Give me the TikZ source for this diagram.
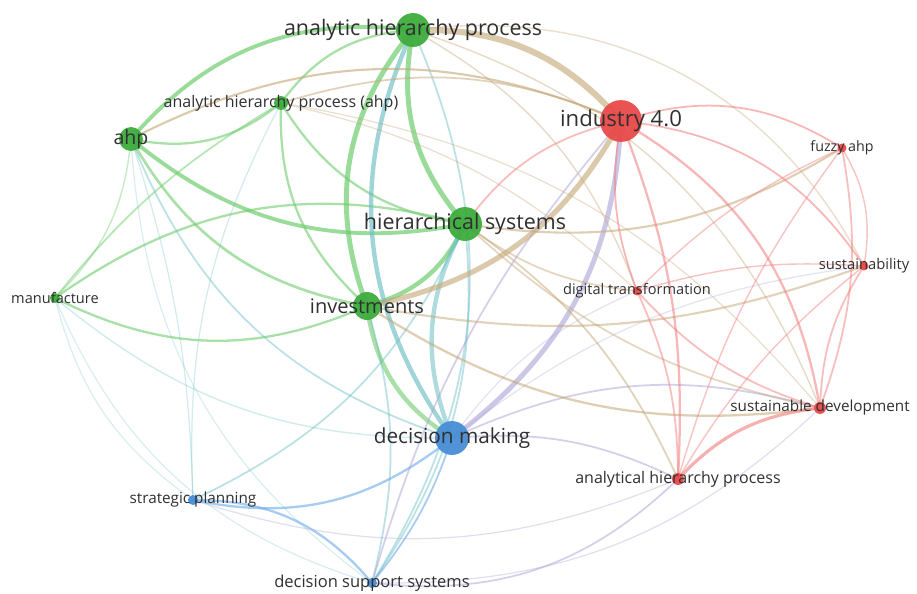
\documentclass[tikz,border=0pt]{standalone}
\usepackage{fontspec}
\setmainfont{Open Sans}
\usetikzlibrary{backgrounds}
\definecolor{gN}{RGB}{62,172,62}
\definecolor{rN}{RGB}{232,74,74}
\definecolor{bN}{RGB}{72,142,212}
\definecolor{gE}{RGB}{110,204,110}
\definecolor{tE}{RGB}{196,166,118}
\definecolor{cE}{RGB}{108,190,196}
\definecolor{rE}{RGB}{242,124,124}
\definecolor{lE}{RGB}{170,162,214}
\definecolor{bE}{RGB}{108,170,234}
\definecolor{txt}{RGB}{48,48,48}
\begin{document}
\begin{tikzpicture}[x=0.02cm,y=-0.02cm,
  nd/.style 2 args={circle,inner sep=0pt,minimum size=#2,fill=#1,draw=none,fill opacity=.95},
  lab/.style={text=txt,inner sep=0pt,font=\fontsize{#1}{#1}\selectfont},
  E/.style n args={3}{draw=#1,line width=#2,draw opacity=#3}]
\useasboundingbox (0,0) rectangle (917,593);
% nodes (circles)
\node[nd={gN}{19.3pt}] (A) at (413,30) {};
\node[nd={rN}{23.8pt}] (I) at (621,121) {};
\node[nd={gN}{13.6pt}] (H) at (131,139) {};
\node[nd={gN}{7.9pt}] (P) at (281,103) {};
\node[nd={gN}{19.3pt}] (S) at (465,224) {};
\node[nd={gN}{15.9pt}] (V) at (367,306) {};
\node[nd={gN}{5.7pt}] (M) at (55,298) {};
\node[nd={rN}{5.1pt}] (D) at (637,291) {};
\node[nd={rN}{5.1pt}] (F) at (842,148) {};
\node[nd={rN}{5.1pt}] (U) at (864,266) {};
\node[nd={rN}{6.8pt}] (SD) at (820,408) {};
\node[nd={rN}{6.8pt}] (AH) at (678,479) {};
\node[nd={bN}{19.3pt}] (DM) at (452,438) {};
\node[nd={bN}{5.7pt}] (SP) at (193,500) {};
\node[nd={bN}{5.7pt}] (DSS) at (372,583) {};
\begin{scope}[on background layer]
\fill[white] (0,0) rectangle (917,593);
% green-green
\draw[E={gE}{2.2pt}{.7}] (H.center) to[bend left=28] (A.center);
\draw[E={gE}{2.8pt}{.7}] (V.center) to[bend left=30] (A.center);
\draw[E={gE}{2.8pt}{.7}] (S.center) to[bend left=26] (A.center);
\draw[E={gE}{2.2pt}{.7}] (H.center) to[bend right=25] (S.center);
\draw[E={gE}{1.5pt}{.6}] (H.center) to[bend right=25] (V.center);
\draw[E={gE}{1.3pt}{.6}] (H.center) to[bend right=25] (P.center);
\draw[E={gE}{.8pt}{.4}] (H.center) to[bend left=20] (M.center);
\draw[E={gE}{1.3pt}{.6}] (M.center) to[bend left=25] (S.center);
\draw[E={gE}{1.3pt}{.6}] (M.center) to[bend right=25] (V.center);
\draw[E={gE}{1pt}{.5}] (M.center) to[bend left=10] (P.center);
\draw[E={gE}{1.3pt}{.6}] (P.center) to[bend right=25] (S.center);
\draw[E={gE}{1.3pt}{.6}] (P.center) to[bend right=25] (V.center);
\draw[E={gE}{1.3pt}{.6}] (P.center) to[bend left=25] (A.center);
\draw[E={gE}{2.5pt}{.7}] (V.center) to[bend right=25] (S.center);
\draw[E={gE}{2.5pt}{.6}] (V.center) to[bend right=25] (DM.center);
% green-blue
\draw[E={cE}{2.5pt}{.65}] (DM.center) to[bend left=30] (A.center);
\draw[E={cE}{2.5pt}{.55}] (S.center) to[bend right=25] (DM.center);
\draw[E={cE}{1pt}{.45}] (H.center) to[bend right=25] (DM.center);
\draw[E={cE}{1pt}{.45}] (A.center) to[bend left=28] (DSS.center);
\draw[E={cE}{1pt}{.45}] (V.center) to[bend left=15] (DSS.center);
\draw[E={cE}{1pt}{.45}] (S.center) to[bend left=20] (DSS.center);
\draw[E={cE}{1pt}{.45}] (S.center) to[bend left=20] (SP.center);
\draw[E={cE}{.7pt}{.3}] (H.center) to[bend left=8] (SP.center);
\draw[E={cE}{.7pt}{.3}] (P.center) to[bend right=15] (SP.center);
\draw[E={cE}{.7pt}{.25}] (M.center) to[bend right=20] (SP.center);
\draw[E={cE}{.7pt}{.25}] (M.center) to[bend right=25] (DSS.center);
\draw[E={cE}{.8pt}{.3}] (M.center) to[bend right=20] (DM.center);
\draw[E={cE}{.7pt}{.25}] (H.center) to[bend right=25] (DSS.center);
% blue
\draw[E={bE}{1.3pt}{.6}] (SP.center) to[bend right=25] (DM.center);
\draw[E={bE}{1.3pt}{.6}] (SP.center) to[bend left=25] (DSS.center);
\draw[E={bE}{1pt}{.6}] (DSS.center) to[bend right=10] (DM.center);
% red-blue
\draw[E={lE}{2.8pt}{.6}] (DM.center) to[bend right=25] (I.center);
\draw[E={lE}{1pt}{.5}] (DM.center) to[bend left=20] (SD.center);
\draw[E={lE}{1pt}{.5}] (DM.center) to[bend left=15] (AH.center);
\draw[E={lE}{1pt}{.5}] (DSS.center) to[bend right=25] (AH.center);
\draw[E={lE}{.7pt}{.35}] (DSS.center) to[bend right=22] (SD.center);
\draw[E={lE}{1pt}{.5}] (DSS.center) to[bend left=12] (I.center);
\draw[E={lE}{.7pt}{.35}] (SP.center) to[bend right=20] (AH.center);
\draw[E={lE}{.7pt}{.3}] (DM.center) to[bend left=15] (U.center);
\draw[E={lE}{.7pt}{.3}] (DM.center) to[bend left=15] (D.center);
% green-red
\draw[E={tE}{3.5pt}{.6}] (A.center) to[bend left=25] (I.center);
\draw[E={tE}{3pt}{.6}] (V.center) to[bend right=25] (I.center);
\draw[E={tE}{1.2pt}{.6}] (H.center) to[bend left=25] (I.center);
\draw[E={tE}{1pt}{.5}] (P.center) to[bend left=20] (I.center);
\draw[E={rE}{1pt}{.5}] (S.center) to[bend left=20] (I.center);
\draw[E={tE}{1.2pt}{.55}] (S.center) to[bend right=20] (F.center);
\draw[E={tE}{1pt}{.45}] (S.center) to[bend right=15] (D.center);
\draw[E={tE}{1pt}{.5}] (S.center) to[bend left=15] (AH.center);
\draw[E={tE}{1pt}{.45}] (S.center) to[bend right=15] (SD.center);
\draw[E={tE}{1.3pt}{.55}] (V.center) to[bend right=20] (SD.center);
\draw[E={tE}{1.2pt}{.5}] (V.center) to[bend right=15] (U.center);
\draw[E={tE}{.8pt}{.35}] (A.center) to[bend left=35] (U.center);
\draw[E={tE}{.8pt}{.4}] (A.center) to[bend left=20] (D.center);
\draw[E={tE}{.8pt}{.4}] (A.center) to[bend left=25] (SD.center);
\draw[E={tE}{.7pt}{.35}] (P.center) to[bend left=15] (D.center);
\draw[E={tE}{.7pt}{.35}] (P.center) to[bend left=20] (SD.center);
% red-red
\draw[E={rE}{1pt}{.55}] (I.center) to[bend left=25] (F.center);
\draw[E={rE}{1pt}{.55}] (I.center) to[bend left=25] (U.center);
\draw[E={rE}{1.3pt}{.55}] (I.center) to[bend left=25] (SD.center);
\draw[E={rE}{1pt}{.55}] (I.center) to[bend right=15] (D.center);
\draw[E={rE}{1.3pt}{.55}] (I.center) to[bend left=12] (AH.center);
\draw[E={rE}{.8pt}{.45}] (D.center) to[bend left=10] (F.center);
\draw[E={rE}{.8pt}{.45}] (D.center) to[bend left=10] (U.center);
\draw[E={rE}{1pt}{.5}] (D.center) to[bend right=15] (SD.center);
\draw[E={rE}{1pt}{.5}] (D.center) to[bend left=12] (AH.center);
\draw[E={rE}{.8pt}{.45}] (F.center) to[bend left=20] (U.center);
\draw[E={rE}{1pt}{.5}] (F.center) to[bend left=15] (SD.center);
\draw[E={rE}{.8pt}{.45}] (F.center) to[bend right=10] (AH.center);
\draw[E={rE}{1pt}{.5}] (U.center) to[bend right=15] (SD.center);
\draw[E={rE}{.8pt}{.45}] (U.center) to[bend right=10] (AH.center);
\draw[E={rE}{1.8pt}{.6}] (AH.center) to[bend left=20] (SD.center);
\end{scope}
% labels
\node[lab=12.2] (Al) at (A) {analytic hierarchy process};
\node[lab=12.6] (Il) at (I) {industry 4.0};
\node[lab=11.1] (Hl) at (H) {ahp};
\node[lab=9.1] (Pl) at (P) {analytic hierarchy process (ahp)};
\node[lab=12.2] (Sl) at (S) {hierarchical systems};
\node[lab=11.4] (Vl) at (V) {investments};
\node[lab=8.3] (Ml) at (M) {manufacture};
\node[lab=8.3] (Dl) at (D) {digital transformation};
\node[lab=8.1] (Fl) at (F) {fuzzy ahp};
\node[lab=8.4] (Ul) at (U) {sustainability};
\node[lab=8.7] (SDl) at (SD) {sustainable development};
\node[lab=9.1] (AHl) at (AH) {analytical hierarchy process};
\node[lab=11.8] (DMl) at (DM) {decision making};
\node[lab=8.7] (SPl) at (SP) {strategic planning};
\node[lab=9.4] (DSSl) at (DSS) {decision support systems};
\end{tikzpicture}
\end{document}
